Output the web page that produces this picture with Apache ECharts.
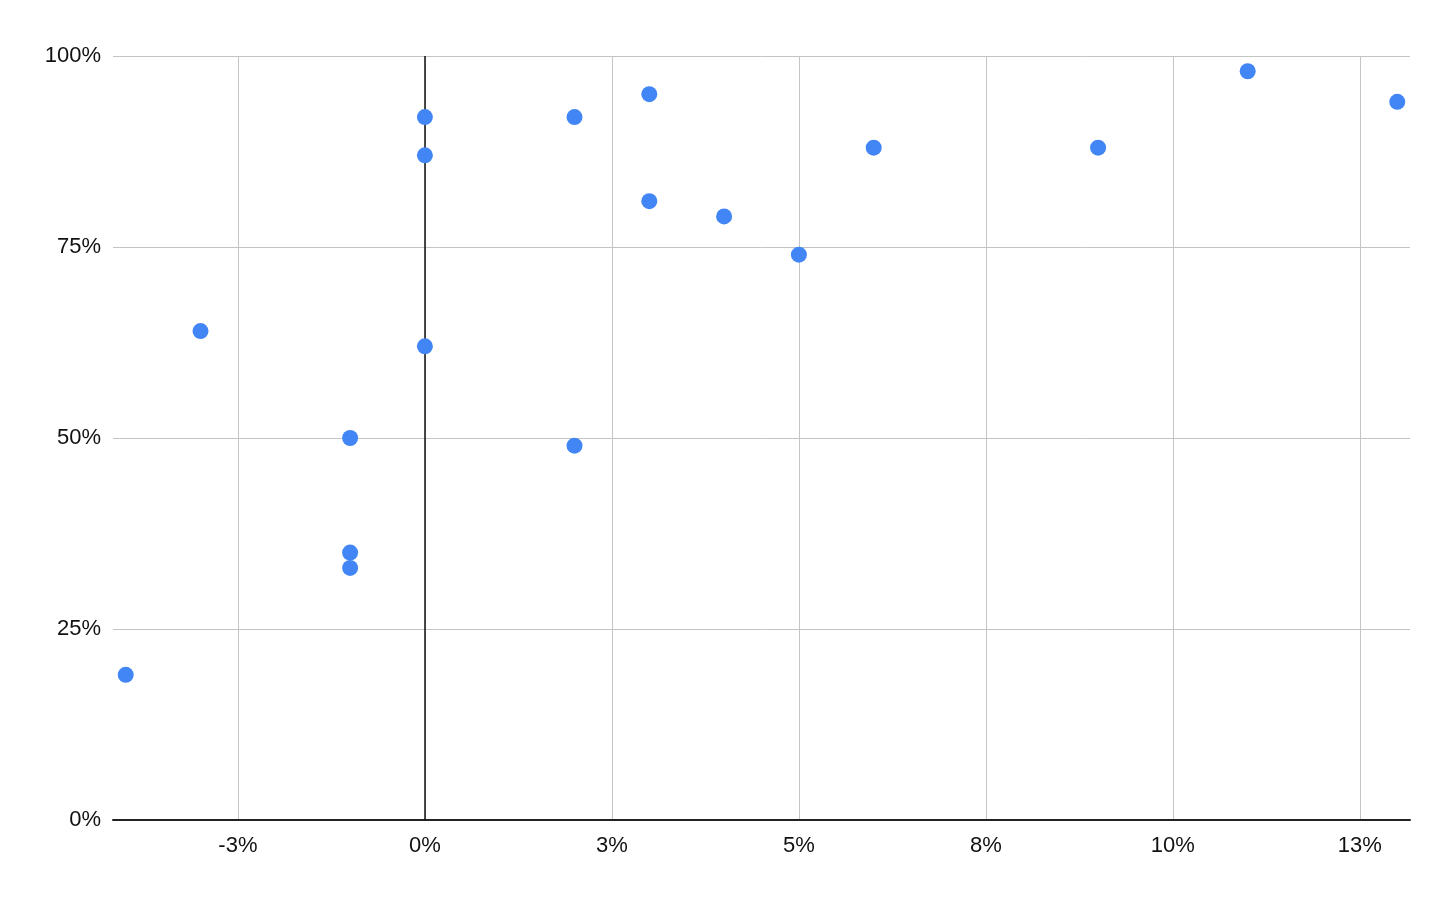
<!DOCTYPE html>
<html>
<head>
<meta charset="utf-8">
<script src="https://cdn.jsdelivr.net/npm/echarts@6/dist/echarts.min.js"></script>
<style>
html,body{margin:0;padding:0;background:#fff;}
#chart{width:1456px;height:900px;}
</style>
</head>
<body>
<div id="chart"></div>
<script>
// Data (percent values)
var xValues = [-4, -3, -1, -1, -1, 0, 0, 0, 2, 2, 3, 3, 4, 5, 6, 9, 11, 13];
var yValues = [19, 64, 50, 35, 33, 92, 87, 62, 92, 49, 95, 81, 79, 74, 88, 88, 98, 94];
var xTickValues = [-2.5, 0, 2.5, 5, 7.5, 10, 12.5];
var xTickLabels = ['-3%', '0%', '3%', '5%', '8%', '10%', '13%'];
var yTickValues = [0, 25, 50, 75, 100];
var yTickLabels = ['0%', '25%', '50%', '75%', '100%'];

var points = xValues.map(function (x, i) { return [x, yValues[i]]; });
var font = 'Liberation Sans, Arial, sans-serif';

var chart = echarts.init(document.getElementById('chart'), null, {renderer: 'canvas'});
chart.setOption({
  animation: false,
  backgroundColor: '#ffffff',
  grid: {left: 113, right: 46, top: 56, bottom: 80, containLabel: false},
  xAxis: {
    type: 'value',
    min: -4.17,
    max: 13.17,
    axisLine: {show: true, onZero: false, lineStyle: {color: '#222222', width: 2}},
    axisTick: {show: false, customValues: xTickValues},
    axisLabel: {
      customValues: xTickValues,
      margin: 15,
      color: '#111111',
      fontSize: 22,
      fontFamily: font,
      formatter: function (v) {
        var i = xTickValues.indexOf(v);
        return i >= 0 ? xTickLabels[i] : '';
      }
    },
    splitLine: {show: true, lineStyle: {color: '#c4c4c4', width: 1}}
  },
  yAxis: {
    type: 'value',
    min: 0,
    max: 100,
    interval: 25,
    axisLine: {show: false},
    axisTick: {show: false},
    axisLabel: {
      margin: 12,
      color: '#111111',
      fontSize: 22,
      fontFamily: font,
      formatter: function (v) {
        var i = yTickValues.indexOf(v);
        return i >= 0 ? yTickLabels[i] : '';
      }
    },
    splitLine: {show: true, lineStyle: {color: '#c4c4c4', width: 1}}
  },
  series: [
    {
      type: 'scatter',
      data: [],
      z: 1,
      silent: true,
      markLine: {
        silent: true,
        symbol: ['none', 'none'],
        label: {show: false},
        lineStyle: {color: '#111111', width: 1.5, type: 'solid'},
        data: [{xAxis: 0}]
      }
    },
    {
      type: 'scatter',
      z: 5,
      data: points,
      symbol: 'circle',
      symbolSize: 16,
      itemStyle: {color: '#4285F4', opacity: 1}
    }
  ]
});
</script>
</body>
</html>
